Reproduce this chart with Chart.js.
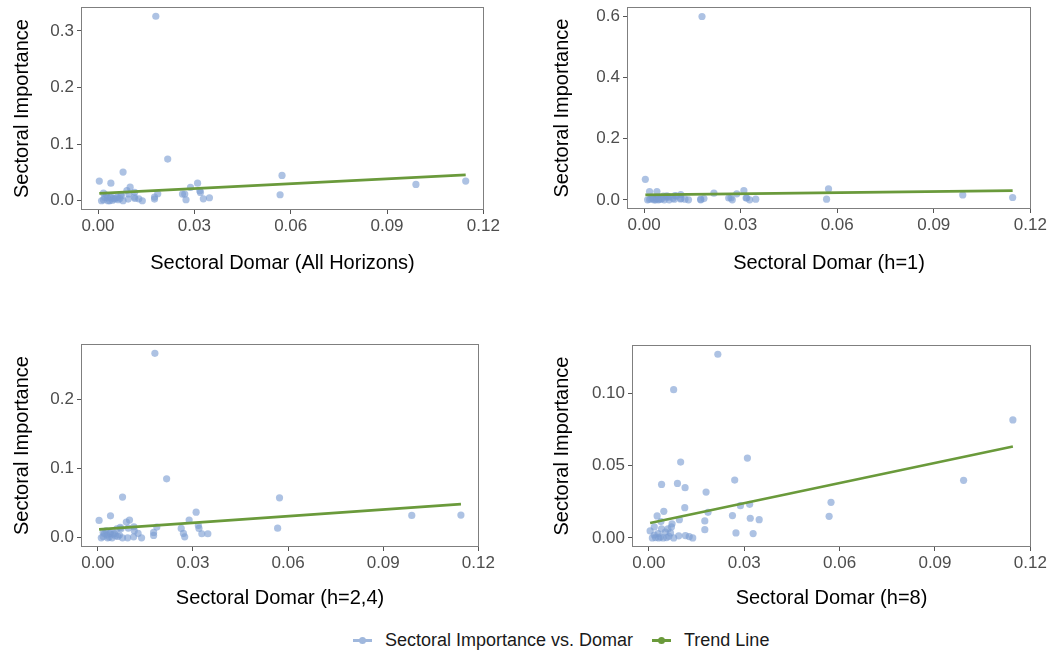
<!DOCTYPE html>
<html lang="en">
<head>
  <meta charset="UTF-8">
  <title>Sectoral Importance vs. Domar</title>
  <script src="https://cdn.jsdelivr.net/npm/chart.js"></script>
  <style>
    * {
      margin: 0;
      padding: 0;
      box-sizing: border-box;
    }

    body {
      width: 1050px;
      height: 653px;
      background: #fff;
      position: relative;
      overflow: hidden;
      font-family: 'Liberation Sans', Arial, sans-serif;
    }

    .panel {
      position: absolute;
    }

    .key {
      position: absolute;
      top: 639px;
      width: 19px;
      height: 3px;
    }

    .key::after {
      content: '';
      position: absolute;
      left: 6px;
      top: -2px;
      width: 7px;
      height: 7px;
      border-radius: 50%;
      background: inherit;
    }

    .key.blue { background: #a0b8dd; }
    .key.green { background: #6a9a3b; }

    .legend-text {
      position: absolute;
      top: 629px;
      font-size: 18px;
      line-height: 22px;
      color: #1a1a1a;
      white-space: nowrap;
    }
  </style>
</head>
<body>
  <span class="key blue" style="left:353px"></span>
  <span class="legend-text" style="left:385px">Sectoral Importance vs. Domar</span>
  <span class="key green" style="left:652px"></span>
  <span class="legend-text" style="left:684px">Trend Line</span>

  <script>
    // sector Domar weights (shared x positions)
    const domar = [0.0217, 0.0078, 0.1145, 0.0100, 0.0310, 0.0270, 0.0990, 0.0040, 0.0090, 0.0114,
      0.0180, 0.0573, 0.0288, 0.0317, 0.0113, 0.0186, 0.0047, 0.0263, 0.0567, 0.0319,
      0.0347, 0.0176, 0.0096, 0.0026, 0.0038, 0.0073, 0.0176, 0.0274, 0.0328, 0.0094,
      0.0115, 0.0127, 0.0138, 0.0004, 0.0017, 0.0011, 0.0017, 0.0029, 0.0040, 0.0036,
      0.0045, 0.0052, 0.0060, 0.0063, 0.0068, 0.0071, 0.0078, 0.0056, 0.0021, 0.0031];

    const impAll = [0.0737, 0.0507, 0.0348, 0.024, 0.031, 0.0118, 0.0289, 0.031, 0.018, 0.015,
      0.326, 0.0447, 0.0235, 0.0177, 0.0065, 0.0124, 0.004, 0.0118, 0.0106, 0.0147,
      0.0053, 0.0065, 0.012, 0.010, 0.006, 0.009, 0.003, 0.0018, 0.0035, 0.003,
      0.004, 0.0035, 0.0, 0.0348, 0.0136, 0.0, 0.002, 0.005, 0.008, 0.0,
      0.001, 0.003, 0.006, 0.002, 0.004, 0.011, 0.0, 0.005, 0.006, 0.0];

    const impH1 = [0.0216, 0.010, 0.0076, 0.012, 0.030, 0.006, 0.016, 0.027, 0.005, 0.017,
      0.599, 0.0357, 0.0195, 0.006, 0.003, 0.004, 0.003, 0.006, 0.002, 0.006,
      0.002, 0.002, 0.014, 0.008, 0.004, 0.008, 0.0, 0.0, 0.0, 0.002,
      0.004, 0.002, 0.0, 0.067, 0.027, 0.0, 0.001, 0.003, 0.005, 0.0,
      0.0, 0.002, 0.012, 0.0, 0.010, 0.013, 0.0, 0.004, 0.004, 0.0];

    const impH24 = [0.085, 0.0587, 0.0327, 0.0255, 0.037, 0.0063, 0.0322, 0.0317, 0.0226, 0.0159,
      0.266, 0.0577, 0.0255, 0.0178, 0.0014, 0.0154, 0.005, 0.0135, 0.0139, 0.0135,
      0.0058, 0.0077, 0.014, 0.010, 0.006, 0.013, 0.0034, 0.0014, 0.0058, 0.0,
      0.010, 0.0063, 0.0, 0.025, 0.008, 0.0, 0.002, 0.004, 0.008, 0.001,
      0.0, 0.006, 0.013, 0.002, 0.004, 0.015, 0.0, 0.003, 0.006, 0.0];

    const impH8 = [0.127, 0.1025, 0.0816, 0.0524, 0.0552, 0.040, 0.0398, 0.037, 0.0377, 0.0347,
      0.0317, 0.0246, 0.0223, 0.0232, 0.0209, 0.0177, 0.0184, 0.0154, 0.0149, 0.0136,
      0.0126, 0.0117, 0.0126, 0.0152, 0.0113, 0.0097, 0.0057, 0.0034, 0.003, 0.0014,
      0.0016, 0.0009, 0.0, 0.0048, 0.0076, 0.0, 0.002, 0.003, 0.0062, 0.0007,
      0.0, 0.004, 0.0062, 0.0011, 0.0034, 0.0076, 0.0, 0.0002, 0.0002, 0.0];

    // trend line values at the smallest and largest Domar
    const trendAll = [0.0129, 0.0459];
    const trendH1 = [0.0162, 0.0303];
    const trendH24 = [0.0120, 0.0486];
    const trendH8 = [0.0103, 0.0632];

    const xTicks = [0, 0.03, 0.06, 0.09, 0.12];
    const yTicksAll = [0, 0.1, 0.2, 0.3];
    const yTicksH1 = [0, 0.2, 0.4, 0.6];
    const yTicksH24 = [0, 0.1, 0.2];
    const yTicksH8 = [0, 0.05, 0.10];

    const blue = 'rgba(122, 157, 210, 0.62)';
    const green = '#6a9a3b';
    const xMin = Math.min(...domar);
    const xMax = Math.max(...domar);

    Chart.defaults.font.family = "'Liberation Sans', Arial, sans-serif";

    const frame = {
      id: 'frame',
      afterDatasetsDraw(chart) {
        const { ctx, chartArea: a } = chart;
        ctx.save();
        ctx.strokeStyle = '#7f7f7f';
        ctx.lineWidth = 1;
        ctx.strokeRect(Math.round(a.left) + 0.5, Math.round(a.top) + 0.5,
          Math.round(a.right - a.left) - 1, Math.round(a.bottom - a.top) - 1);
        ctx.restore();
      }
    };

    function makePanel(cfg) {
      const box = document.createElement('div');
      box.className = 'panel';
      box.style.left = cfg.box[0] + 'px';
      box.style.top = cfg.box[1] + 'px';
      const canvas = document.createElement('canvas');
      canvas.width = cfg.box[2];
      canvas.height = cfg.box[3];
      box.appendChild(canvas);
      document.body.appendChild(box);

      new Chart(canvas, {
        type: 'scatter',
        data: {
          datasets: [
            {
              label: 'Trend Line',
              data: [{ x: xMin, y: cfg.trend[0] }, { x: xMax, y: cfg.trend[1] }],
              showLine: true,
              borderColor: green,
              borderWidth: 2.7,
              pointRadius: 0,
              order: 0
            },
            {
              label: 'Sectoral Importance vs. Domar',
              data: domar.map((d, i) => ({ x: d, y: cfg.values[i] })),
              backgroundColor: blue,
              borderWidth: 0,
              pointRadius: 3.6,
              order: 1
            }
          ]
        },
        options: {
          responsive: false,
          animation: false,
          layout: { padding: { top: cfg.padTop, right: cfg.padRight, left: 0, bottom: 0 } },
          plugins: { legend: { display: false }, tooltip: { enabled: false } },
          scales: {
            x: {
              type: 'linear',
              min: -0.0053,
              max: 0.1202,
              afterBuildTicks: s => { s.ticks = xTicks.map(v => ({ value: v })); },
              afterFit: s => { s.height = cfg.xAxisH; },
              ticks: {
                callback: v => Number(v).toFixed(2),
                font: { size: 17 },
                color: '#4d4d4d',
                padding: 2,
                maxRotation: 0,
                autoSkip: false
              },
              grid: { drawOnChartArea: false, tickLength: 4, color: '#555' },
              border: { display: false },
              title: {
                display: true,
                text: cfg.xTitle,
                font: { size: 20 },
                color: '#000',
                padding: { top: 0, bottom: cfg.xTitlePad }
              }
            },
            y: {
              type: 'linear',
              min: cfg.yRange[0],
              max: cfg.yRange[1],
              afterBuildTicks: s => { s.ticks = cfg.yTicks.map(v => ({ value: v })); },
              afterFit: s => { s.width = cfg.yAxisW; },
              ticks: {
                callback: v => Number(v).toFixed(cfg.yDigits),
                font: { size: 17 },
                color: '#4d4d4d',
                padding: 3,
                autoSkip: false
              },
              grid: { drawOnChartArea: false, tickLength: 4, color: '#555' },
              border: { display: false },
              title: {
                display: true,
                text: 'Sectoral Importance',
                font: { size: 20 },
                color: '#000',
                padding: { top: cfg.yTitlePad, bottom: 0 }
              }
            }
          }
        },
        plugins: [frame]
      });
    }

    makePanel({
      box: [0, -7, 525, 300], padTop: 14, padRight: 41, yAxisW: 81, xAxisH: 83,
      xTitle: 'Sectoral Domar (All Horizons)', xTitlePad: 18, yTitlePad: 10,
      values: impAll, trend: trendAll, yRange: [-0.0163, 0.3423], yTicks: yTicksAll, yDigits: 1
    });
    makePanel({
      box: [545, -7, 505, 300], padTop: 14, padRight: 19, yAxisW: 82, xAxisH: 84,
      xTitle: 'Sectoral Domar (h=1)', xTitlePad: 18, yTitlePad: 5,
      values: impH1, trend: trendH1, yRange: [-0.03, 0.63], yTicks: yTicksH1, yDigits: 1
    });
    makePanel({
      box: [0, 330, 525, 300], padTop: 14, padRight: 46, yAxisW: 81, xAxisH: 83,
      xTitle: 'Sectoral Domar (h=2,4)', xTitlePad: 20, yTitlePad: 10,
      values: impH24, trend: trendH24, yRange: [-0.0133, 0.2795], yTicks: yTicksH24, yDigits: 1
    });
    makePanel({
      box: [545, 330, 505, 300], padTop: 15, padRight: 19, yAxisW: 87, xAxisH: 83,
      xTitle: 'Sectoral Domar (h=8)', xTitlePad: 20, yTitlePad: 5,
      values: impH8, trend: trendH8, yRange: [-0.0063, 0.1334], yTicks: yTicksH8, yDigits: 2
    });
  </script>
</body>
</html>
